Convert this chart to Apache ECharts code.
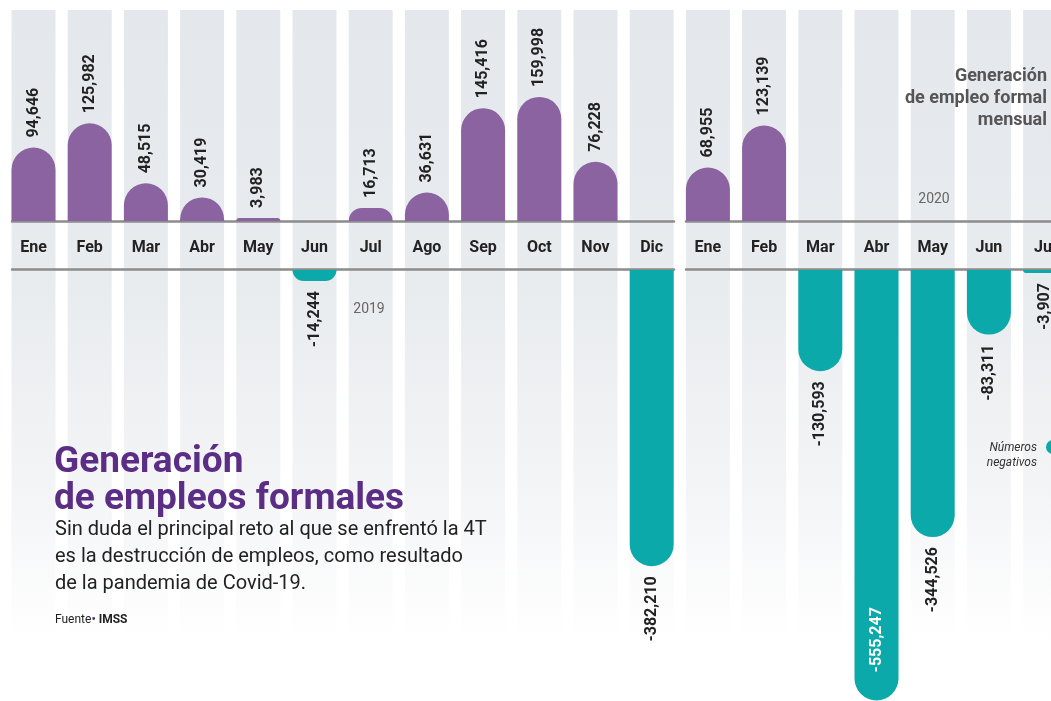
<!DOCTYPE html>
<html>
<head>
<meta charset="utf-8">
<script src="https://cdn.jsdelivr.net/npm/echarts@6/dist/echarts.min.js"></script>
<style>
  html,body{margin:0;padding:0;background:#fff;overflow:hidden;}
  /* el gráfico es más ancho que la ventana: la última columna queda cortada */
  #chart{width:1100px;height:701px;}
</style>
</head>
<body>
<div id="chart"></div>
<script>
// meses y valores (empleos formales, IMSS)
const months2019 = ['Ene','Feb','Mar','Abr','May','Jun','Jul','Ago','Sep','Oct','Nov','Dic']
const months2020 = ['Ene','Feb','Mar','Abr','May','Jun','Jul']
const empleo2019 = [94646, 125982, 48515, 30419, 3983, -14244, 16713, 36631, 145416, 159998, 76228, -382210]
const empleo2020 = [68955, 123139, -130593, -555247, -344526, -83311, -3907]

const categories = months2019.map(m => '2019-' + m).concat(months2020.map(m => '2020-' + m))
const values = empleo2019.concat(empleo2020)

const purple = '#8a63a0'
const teal = '#0ba9a9'
const font = 'Roboto'

const chart = echarts.init(document.getElementById('chart'))

// barras positivas y negativas en rejillas separadas
const posData = values.map(v => v > 0 ? v : '-')
const negData = values.map(v => {
  if (v >= 0) return '-'
  if (v < -500000) {
    // la barra más larga lleva su etiqueta adentro
    return {value: v, label: {position: 'insideBottom', align: 'left', color: '#fff', distance: 28}}
  }
  return v
})
const fmt = p => Number(p.value).toLocaleString('en-US')

const lineAxis = (grid, pos) => ({
  gridIndex: grid, type: 'value', min: 0, max: 1, position: pos,
  axisLine: {show: true, onZero: false, lineStyle: {color: '#8c8c8c', width: 2.5}},
  axisTick: {show: false}, axisLabel: {show: false}, splitLine: {show: false}
})
const hiddenY = (grid, min, max) => ({gridIndex: grid, type: 'value', min: min, max: max, show: false})

chart.setOption({
  animation: false,
  grid: [
    {left: 5.4, width: 1067.8, top: 10, height: 630},   // columnas de fondo
    {left: 5.4, width: 1067.8, top: 10, height: 211},   // positivos
    {left: 5.4, width: 1067.8, top: 270, height: 431},  // negativos
    {left: 12, width: 662, top: 221, height: 48},       // líneas 2019
    {left: 686, width: 400, top: 221, height: 48}       // líneas 2020
  ],
  xAxis: [
    {gridIndex: 0, type: 'category', data: categories, show: false},
    {gridIndex: 1, type: 'category', data: categories, z: 10,
      axisLine: {show: false}, axisTick: {show: false},
      axisLabel: {interval: 0, margin: 19, fontSize: 16, fontWeight: 'bold', color: '#222', fontFamily: font,
        formatter: v => v.split('-')[1]}},
    {gridIndex: 2, type: 'category', data: categories, show: false},
    lineAxis(3, 'top'), lineAxis(3, 'bottom'),
    lineAxis(4, 'top'), lineAxis(4, 'bottom')
  ],
  yAxis: [
    hiddenY(0, 0, 1),
    hiddenY(1, 0, 272000),
    hiddenY(2, -556000, 0),
    hiddenY(3, 0, 1),
    hiddenY(4, 0, 1)
  ],
  series: [
    {
      type: 'bar', xAxisIndex: 0, yAxisIndex: 0, barWidth: 44, z: -1, silent: true,
      data: categories.map(() => 1),
      itemStyle: {
        color: new echarts.graphic.LinearGradient(0, 0, 0, 1, [
          {offset: 0, color: '#e4e7eb'},
          {offset: 0.45, color: '#e9ecef'},
          {offset: 0.75, color: '#f3f4f6'},
          {offset: 1, color: '#ffffff'}
        ])
      }
    },
    {
      name: 'Números positivos', type: 'bar', xAxisIndex: 1, yAxisIndex: 1, barWidth: 44,
      data: posData,
      itemStyle: {color: purple, borderRadius: [22, 22, 0, 0]},
      label: {show: true, position: 'top', rotate: 90, align: 'left', verticalAlign: 'middle', distance: 10,
        fontSize: 16, fontWeight: 'bold', color: '#222', fontFamily: font, formatter: fmt}
    },
    {
      name: 'Números negativos', type: 'bar', xAxisIndex: 2, yAxisIndex: 2, barWidth: 44,
      data: negData,
      itemStyle: {color: teal, borderRadius: [0, 0, 22, 22]},
      label: {show: true, position: 'bottom', rotate: 90, align: 'right', verticalAlign: 'middle', distance: 10,
        fontSize: 16, fontWeight: 'bold', color: '#222', fontFamily: font, formatter: fmt}
    }
  ],
  graphic: [
    {type: 'text', left: 54, top: 444, style: {
      text: 'Generación\nde empleos formales', font: 'bold 37px Roboto', fill: '#5b2d84', lineHeight: 37}},
    {type: 'text', left: 55, top: 516, style: {
      text: 'Sin duda el principal reto al que se enfrentó la 4T\nes la destrucción de empleos, como resultado\nde la pandemia de Covid-19.',
      font: '20px Roboto', fill: '#222', lineHeight: 27}},
    {type: 'text', left: 55, top: 614, style: {
      text: '{a|Fuente}{d|•}{b| IMSS}',
      rich: {
        a: {font: '12px Roboto', fill: '#222'},
        d: {font: 'bold 12px Roboto', fill: '#5b2d84'},
        b: {font: 'bold 12px Roboto', fill: '#222'}
      }}},
    {type: 'text', x: 369, y: 309, style: {text: '2019', font: '14px Roboto', fill: '#666', align: 'center', verticalAlign: 'middle'}},
    {type: 'text', x: 934, y: 199, style: {text: '2020', font: '14px Roboto', fill: '#666', align: 'center', verticalAlign: 'middle'}},
    {type: 'text', x: 1047, y: 65, style: {
      text: 'Generación\nde empleo formal\nmensual', font: 'bold 18px Roboto', fill: '#555', align: 'right', lineHeight: 22}},
    {type: 'text', x: 1037, y: 440, style: {
      text: 'Números\nnegativos', font: 'italic 12px Roboto', fill: '#333', align: 'right', lineHeight: 15}},
    {type: 'circle', shape: {cx: 1053, cy: 447, r: 7}, style: {fill: teal}}
  ]
})
</script>
</body>
</html>
